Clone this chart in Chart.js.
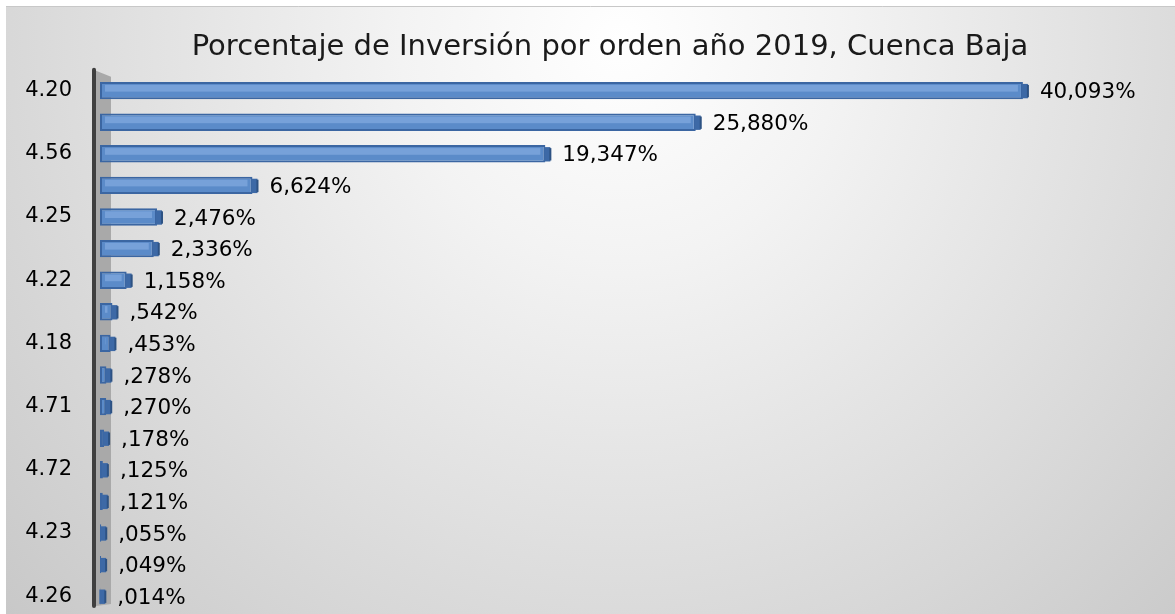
<!DOCTYPE html>
<html>
<head>
<meta charset="utf-8">
<script src="https://cdn.jsdelivr.net/npm/chart.js@4/dist/chart.umd.min.js"></script>
<style>
 html, body { margin:0; padding:0; background:#ffffff; }
 #wrap { position:relative; width:1175px; height:614px; }
</style>
</head>
<body>
<div id="wrap"><canvas id="idTableau-1"></canvas></div>
<script>
 var titre      = "Porcentaje de Inversión por orden año 2019, Cuenca Baja";
 var categories = [ "4.20", "", "4.56", "", "4.25", "", "4.22", "", "4.18", "", "4.71", "", "4.72", "", "4.23", "", "4.26" ];
 var valeurs    = [ 40.093, 25.880, 19.347, 6.624, 2.476, 2.336, 1.158, 0.542, 0.453, 0.278, 0.270, 0.178, 0.125, 0.121, 0.055, 0.049, 0.014 ];
 var axe_max    = 46.7;

/********************************* Format des etiquettes : 0,542 -> ,542% ****************************************************/
 function Format_pourcent ( valeur )
  { var txt = valeur.toFixed(3).replace('.', ',');
    if (txt.indexOf("0,")==0) txt = txt.substring(1);
    return( txt + "%" );
  }

/********************************* Fond degrade + mur 3D + etiquettes **********************************************************/
 var Fond_plugin =
  { id: "fond",
    beforeDraw: function (chart)
     { var ctx = chart.ctx;
       ctx.save();
       ctx.fillStyle = "#ffffff";
       ctx.fillRect( 0, 0, chart.width, chart.height );
       var grad = ctx.createRadialGradient( 620, 40, 0, 620, 40, 1000 );
       grad.addColorStop( 0,    "#ffffff" );
       grad.addColorStop( 0.22, "#f3f3f3" );
       grad.addColorStop( 1,    "#bdbdbd" );
       ctx.fillStyle = grad;
       ctx.fillRect( 6, 6, chart.width-6, chart.height-6 );
       ctx.strokeStyle = "#c8c8c8";
       ctx.lineWidth = 1;
       ctx.beginPath(); ctx.moveTo( 6, 6.5 ); ctx.lineTo( chart.width, 6.5 ); ctx.stroke();
       ctx.restore();
     },
    beforeDatasetsDraw: function (chart)
     { var ctx = chart.ctx, area = chart.chartArea;
       var x0 = area.left - 4;
       ctx.save();
       ctx.fillStyle = "#a9a9a9";                                                                  /* le mur gris a gauche */
       ctx.beginPath();
       ctx.moveTo( x0,      area.top - 4 );
       ctx.lineTo( x0 + 15, area.top + 2 );
       ctx.lineTo( x0 + 15, area.bottom - 8 );
       ctx.lineTo( x0,      area.bottom - 6 );
       ctx.closePath(); ctx.fill();
       ctx.strokeStyle = "#3f3f3f";                                                                         /* axe vertical */
       ctx.lineWidth = 4;
       ctx.lineCap = "round";
       ctx.beginPath(); ctx.moveTo( x0 - 2, area.top - 5 ); ctx.lineTo( x0 - 2, area.bottom - 6 ); ctx.stroke();
       ctx.restore();
     },
    afterDatasetsDraw: function (chart)
     { var ctx = chart.ctx;
       var meta = chart.getDatasetMeta(0);
       ctx.save();
       meta.data.forEach( function (bar, i)
        { var h = bar.height;
          var x1 = bar.base, x2 = bar.x;
          ctx.fillStyle = "rgba(128,168,222,0.75)";                                            /* reflet clair du dessus */
          if (x2 - x1 > 10) ctx.fillRect( x1 + 5, bar.y - h/2 + 3, x2 - x1 - 10, h/2 - 2 );
          ctx.fillStyle = "#3d69a6";                                                                  /* bout de barre 3D */
          ctx.fillRect( x2 - 1, bar.y - h/2 + 2, 6, h - 3 );
          ctx.fillStyle = "#2d5283";
          ctx.fillRect( x2 + 4, bar.y - h/2 + 3, 2, h - 5 );
          ctx.fillStyle = "#000000";
          ctx.font = "21.5px 'DejaVu Sans'";
          ctx.textBaseline = "middle";
          ctx.textAlign = "left";
          ctx.fillText( Format_pourcent(valeurs[i]), x2 + 17, bar.y + 2 );
        });
       ctx.restore();
     }
  };

/********************************* Creation du graphe **************************************************************************/
 Chart.defaults.font.family = "'DejaVu Sans', Verdana, sans-serif";
 Chart.defaults.color = "#000000";

 var ctx = document.getElementById("idTableau-1").getContext('2d');
 var data = { labels: categories,
              datasets: [ { data: valeurs,
                            backgroundColor: "#5b8bc9",
                            borderColor: "#3b66a2",
                            borderWidth: 2,
                            borderSkipped: false,
                            barPercentage: 0.55,
                            categoryPercentage: 1.0
                          } ]
            };
 var options = { responsive: true,
                 maintainAspectRatio: false,
                 animation: false,
                 indexAxis: 'y',
                 layout: { padding: { left: 20, right: -25, top: 0, bottom: 2 } },
                 scales: { x: { display: false, min: 0, max: axe_max },
                           y: { grid: { display: false, drawTicks: false },
                                border: { display: false },
                                ticks: { autoSkip: false, padding: 28, font: { size: 21 }, color: "#000000" },
                                afterFit: function (scale)
                                 { scale.width = 80;
                                   scale.paddingTop = 0;                          /* sinon le padding des ticks mange le bas */
                                   scale.paddingBottom = 0;
                                 }
                              }
                         },
                 plugins: { legend: { display: false },
                            tooltip: { enabled: false },
                            title: { display: true, text: titre, color: "#1a1a1a",
                                     font: { size: 29, weight: "normal" },
                                     padding: { top: 30, bottom: 10 } }
                          }
               };
 new Chart( ctx, { type: 'bar', data: data, options: options, plugins: [ Fond_plugin ] } );
</script>
</body>
</html>
